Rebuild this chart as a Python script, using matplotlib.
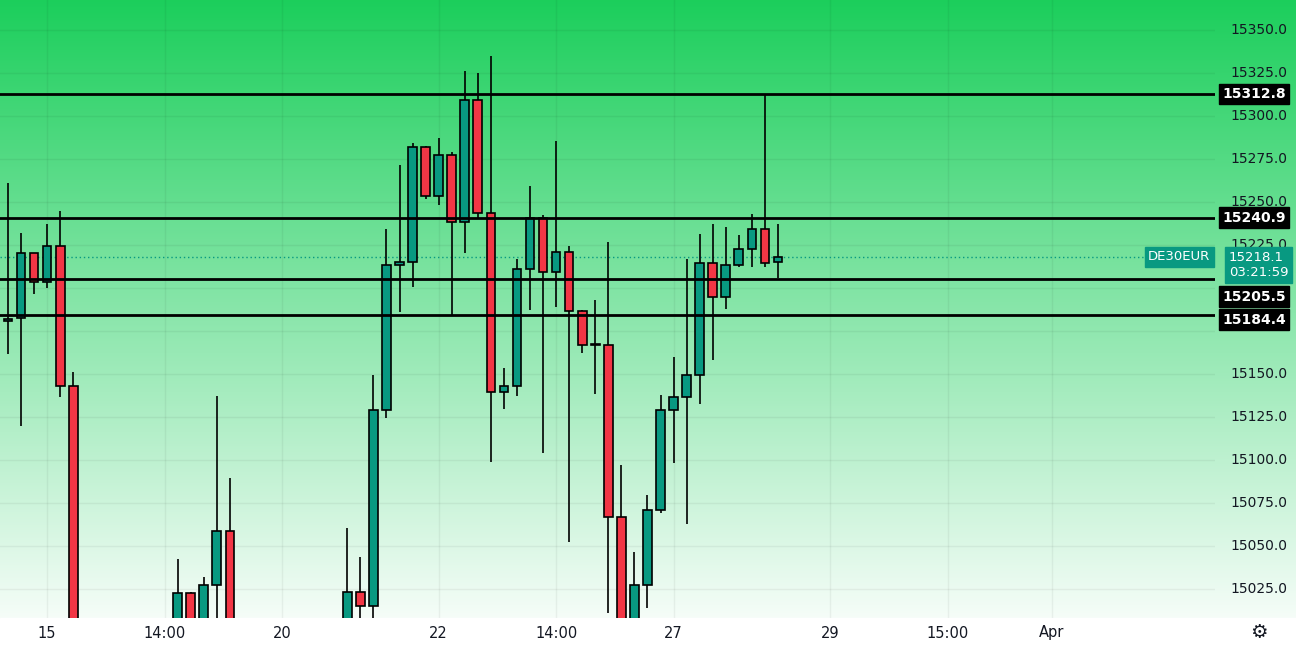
import numpy as np
import matplotlib.pyplot as plt
from matplotlib.patches import Rectangle

# OHLC per bar (bars below the visible range are estimated)
opens = [15180.8, 15182.3, 15220.4, 15203.4, 15224.5, 15143.0,
         14962, 14960, 14955, 14950, 14958, 14962, 14975,
         14990, 15022.7, 14995, 15027.4, 15058.6,
         14950, 14945, 14940, 14948, 14952, 14960, 14970, 14980,
         14985, 15023.4, 15015.1, 15128.9, 15213.4, 15215.3, 15282.1, 15253.3,
         15277.4, 15238.2, 15309.2, 15243.9, 15139.4, 15143.0, 15211.1, 15240.9,
         15209.3, 15221.1, 15186.5, 15166.7, 15166.7, 15066.7, 14995, 15027.4,
         15070.9, 15128.9, 15136.6, 15149.4, 15214.7, 15194.6, 15213.4, 15222.8,
         15234.5, 15215.0]
closes = [15182.0, 15220.4, 15203.4, 15224.5, 15143.0, 14985,
          14960, 14955, 14950, 14958, 14962, 14975, 14990,
          15022.7, 14995, 15027.4, 15058.6, 14985,
          14945, 14940, 14948, 14952, 14960, 14970, 14980, 14985,
          15023.4, 15015.1, 15128.9, 15213.4, 15215.3, 15282.1, 15253.3, 15277.4,
          15238.2, 15309.2, 15243.9, 15139.4, 15143.0, 15211.1, 15240.9, 15209.3,
          15221.1, 15186.5, 15166.7, 15166.7, 15066.7, 14995, 15027.4, 15070.9,
          15128.9, 15136.6, 15149.4, 15214.7, 15194.6, 15213.4, 15222.8, 15234.5,
          15214.7, 15218.1]
highs = [15261.2, 15231.7, 15220.6, 15237.1, 15244.8, 15151.1,
         14978, 14975, 14970, 14968, 14972, 14985, 15008,
         15042.3, 15023, 15031.7, 15137.3, 15089.3,
         14965, 14958, 14960, 14962, 14972, 14985, 14992, 14998,
         15060.5, 15043.4, 15149.6, 15234.1, 15271.6, 15284.4, 15282.5, 15287.0,
         15279.1, 15326.2, 15325.0, 15335.0, 15153.7, 15217.0, 15259.3, 15242.2,
         15285.7, 15224.5, 15187.0, 15193.1, 15226.6, 15096.9, 15046.4, 15079.9,
         15137.9, 15159.7, 15216.6, 15231.3, 15237.1, 15235.4, 15230.7, 15243.1,
         15312.8, 15237.1]
lows = [15161.6, 15120.0, 15196.8, 15199.8, 15136.4, 14975,
        14945, 14940, 14935, 14940, 14945, 14955, 14970,
        14985, 14990, 14990, 14990, 14975,
        14930, 14925, 14930, 14935, 14945, 14955, 14965, 14975,
        14980, 15007.6, 15000, 15124.7, 15186.3, 15200.4, 15252.0, 15248.0,
        15184.6, 15220.2, 15240.9, 15098.9, 15129.4, 15137.0, 15187.4, 15104.2,
        15188.7, 15052.6, 15162.2, 15138.1, 15011.0, 14985, 14990, 15013.8,
        15069.0, 15098.2, 15063.0, 15132.4, 15158.1, 15188.0, 15212.0, 15212.1,
        15212.1, 15206.0]

levels = [15312.8, 15240.9, 15205.5, 15184.4]
level_label_shift = [0, 0, 18, 5]   # px the price tags are pushed down to avoid overlap
last_price = 15218.1
symbol = "DE30EUR"
countdown = "03:21:59"
# 15200 and 15175 are hidden behind the level tags in the reference
y_ticks = [15025, 15050, 15075, 15100, 15125, 15150, 15225,
           15250, 15275, 15300, 15325, 15350]
grid_ticks = [15025, 15050, 15075, 15100, 15125, 15150, 15175, 15200, 15225,
              15250, 15275, 15300, 15325, 15350]
x_tick_pos = [3, 12, 21, 33, 42, 51, 63, 72, 80]
x_tick_labels = ["15", "14:00", "20", "22", "14:00", "27", "29", "15:00", "Apr"]

UP, DOWN = "#089981", "#f23645"
W, H = 1296, 646
fig = plt.figure(figsize=(W / 100, H / 100), dpi=100)

# background gradient
bg = fig.add_axes([0, 0, 1, 1])
grad = np.linspace(0, 1, 256)[:, None]
cols = np.array([0.11, 0.81, 0.36])[None, None, :] * (1 - grad[..., None]) + np.ones(3) * grad[..., None]
bg.imshow(cols, aspect="auto", extent=[0, 1, 0, 1])
bg.axis("off")
bg.add_patch(Rectangle((0, 0), 1, 28 / H, color="white", zorder=2))

ax = fig.add_axes([0, 28 / H, 1215 / W, 618 / H])
ax.patch.set_alpha(0)
px = 13.05
ax.set_xlim(-8 / px, (1215 - 8) / px)
ax.set_ylim(15312.8 - 524 / 1.72, 15312.8 + 94 / 1.72)
for s in ax.spines.values():
    s.set_visible(False)
ax.set_xticks([])
ax.set_yticks([])
for yv in grid_ticks:
    ax.axhline(yv, color="#000000", alpha=0.05, lw=1, zorder=0)
for xv in x_tick_pos:
    ax.axvline(xv, color="#000000", alpha=0.05, lw=1, zorder=0)

for i, (o, c, h, l) in enumerate(zip(opens, closes, highs, lows)):
    col = UP if c >= o else DOWN
    ax.vlines(i, l, h, color="black", lw=1.2, zorder=2)
    lo, hi = min(o, c), max(o, c)
    ax.add_patch(Rectangle((i - 0.33, lo), 0.66, max(hi - lo, 0.8),
                           facecolor=col, edgecolor="black", lw=1.2, zorder=3))

for lv in levels:
    ax.axhline(lv, color="black", lw=2, zorder=4)
ax.axhline(last_price, color=UP, lw=1, ls=(0, (1, 2)), zorder=1)

def to_fig_y(p):
    return (28 + (p - ax.get_ylim()[0]) * 1.72) / H

for yv in y_ticks:
    fig.text(1230 / W, to_fig_y(yv), f"{yv:.1f}", fontsize=10, color="#131722",
             va="center", ha="left")
for lv, sh in zip(levels, level_label_shift):
    fig.text(1222 / W, to_fig_y(lv) - sh / H, f"{lv:.1f}", fontsize=10, color="white",
             fontweight="bold", va="center", ha="left",
             bbox=dict(boxstyle="square,pad=0.25", fc="black", ec="black"))
fig.text(1148 / W, to_fig_y(last_price), symbol, fontsize=9.5, color="white",
         va="center", ha="left", bbox=dict(boxstyle="square,pad=0.25", fc=UP, ec=UP))
fig.text(1229 / W, to_fig_y(last_price) - 8 / H, f"{last_price:.1f}\n{countdown}",
         fontsize=9.5, color="white", va="center", ha="left", linespacing=1.15,
         bbox=dict(boxstyle="square,pad=0.3", fc=UP, ec=UP))

for xv, lab in zip(x_tick_pos, x_tick_labels):
    xf = (8 + xv * px) / W
    fig.text(xf, 13 / H, lab, fontsize=10.5, color="#131722", ha="center", va="center")
fig.text(1259 / W, 13 / H, "⚙", fontsize=14, color="#131722", ha="center", va="center")

fig.savefig("out.png", dpi=100)
